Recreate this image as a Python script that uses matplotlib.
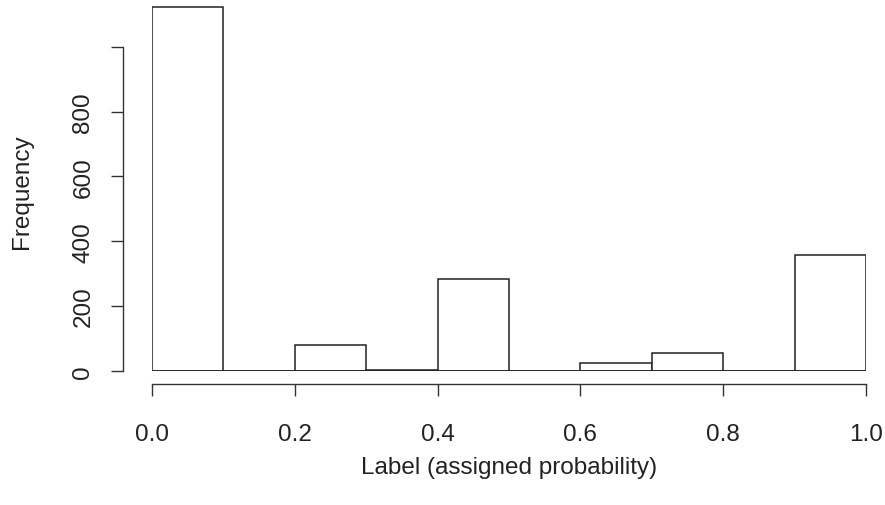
import matplotlib
matplotlib.use("Agg")
import matplotlib.pyplot as plt

# histogram bins (left edges) and counts
bin_edges = [0.0, 0.1, 0.2, 0.3, 0.4, 0.5, 0.6, 0.7, 0.8, 0.9, 1.0]
counts = [1123, 0, 79, 3, 283, 0, 23, 54, 0, 357]
xticks = [0.0, 0.2, 0.4, 0.6, 0.8, 1.0]
yticks = [0, 200, 400, 600, 800, 1000]
yticklabels = ["0", "200", "400", "600", "800", ""]

plt.rcParams['font.family'] = ['Liberation Sans', 'DejaVu Sans']

W, H = 885, 506
fig = plt.figure(figsize=(W / 100, H / 100), dpi=100)
# axes placed in pixels: x 0..1 -> 152..866, y 0 at 371.7, 0.3237 px per count
x0, x1 = 152, 866
y0 = 371.7
ymax = 1145
ax = fig.add_axes([x0 / W, (H - y0) / H, (x1 - x0) / W, ymax * 0.3237 / H])

widths = [bin_edges[i + 1] - bin_edges[i] for i in range(len(counts))]
ax.bar(bin_edges[:-1], counts, width=widths, align='edge',
       facecolor='white', edgecolor='#222222', linewidth=1.1)
ax.axhline(0, color='#222222', lw=1.1, zorder=3)

ax.set_xlim(0, 1)
ax.set_ylim(0, ymax)

for s in ['top', 'right']:
    ax.spines[s].set_visible(False)
ax.spines['left'].set_position(('outward', 21))
ax.spines['bottom'].set_position(('outward', 9.5))
ax.spines['left'].set_bounds(0, 1000)
ax.spines['bottom'].set_bounds(0, 1)
for s in ['left', 'bottom']:
    ax.spines[s].set_linewidth(1.0)
    ax.spines[s].set_color('#333333')

fs = 17.5
ax.set_xticks(xticks)
ax.set_xticklabels(["%.1f" % v for v in xticks])
ax.set_yticks(yticks)
ax.set_yticklabels(yticklabels, rotation=90, va='center')
ax.tick_params(axis='both', length=8.5, width=1.0, color='#333333',
               labelsize=fs, labelcolor='#222222')
ax.tick_params(axis='x', pad=19.5)
ax.tick_params(axis='y', pad=12)

fig.text(509 / W, 1 - 468 / H, "Label (assigned probability)", ha='center', va='center',
         fontsize=fs, color='#222222')
fig.text(22 / W, 1 - 192 / H, "Frequency", ha='center', va='center', rotation=90,
         fontsize=fs, color='#222222')

fig.savefig("out.png", dpi=100)
